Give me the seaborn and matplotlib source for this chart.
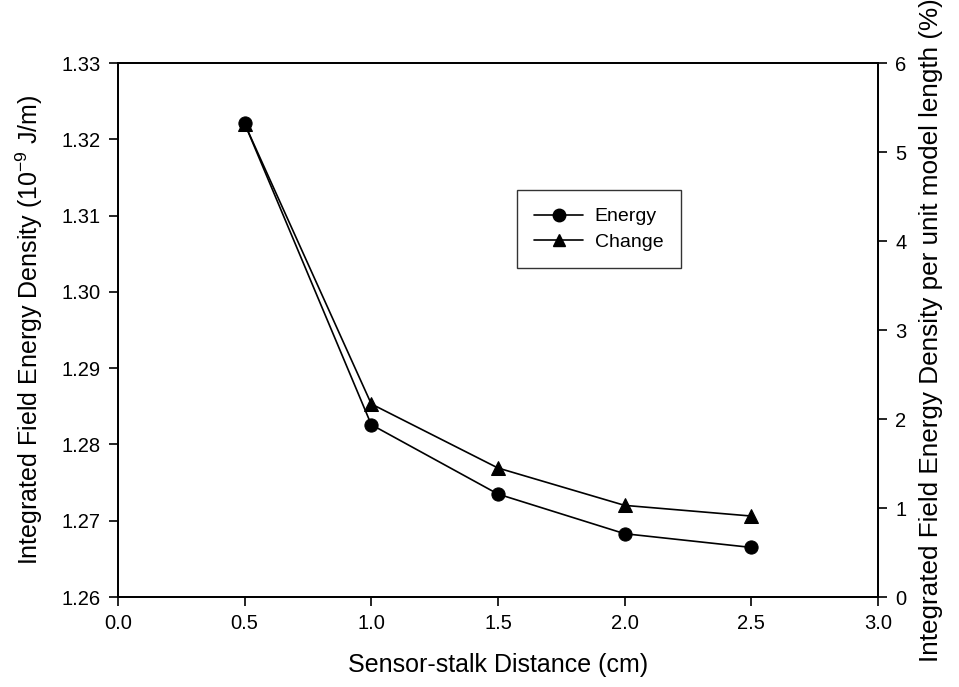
import matplotlib
matplotlib.use("Agg")
import matplotlib.pyplot as plt
import seaborn as sns
import pandas as pd
from matplotlib.lines import Line2D

distance_cm = [0.5, 1.0, 1.5, 2.0, 2.5]
energy = [1.3221, 1.2826, 1.2735, 1.2683, 1.2665]
change_pct = [5.32, 2.17, 1.45, 1.03, 0.91]

x_ticks = [0.0, 0.5, 1.0, 1.5, 2.0, 2.5, 3.0]
left_ticks = [1.26, 1.27, 1.28, 1.29, 1.30, 1.31, 1.32, 1.33]
right_ticks = [0, 1, 2, 3, 4, 5, 6]

sns.set_style("ticks")
plt.rcParams["font.family"] = ["Liberation Sans", "DejaVu Sans"]
plt.rcParams["mathtext.fontset"] = "custom"
plt.rcParams["mathtext.rm"] = "Liberation Sans"
plt.rcParams["text.color"] = "black"
plt.rcParams["axes.labelcolor"] = "black"
plt.rcParams["xtick.color"] = "black"
plt.rcParams["ytick.color"] = "black"

df = pd.DataFrame({"d": distance_cm, "energy": energy, "change": change_pct})

fig = plt.figure(figsize=(9.59, 6.87), dpi=100)
ax = fig.add_axes([0.123, 0.131, 0.7925, 0.777])
ax2 = ax.twinx()

sns.lineplot(data=df, x="d", y="energy", ax=ax, color="black", lw=1.2,
             marker="o", markersize=9.5, markeredgecolor="black")
sns.lineplot(data=df, x="d", y="change", ax=ax2, color="black", lw=1.2,
             marker="^", markersize=9.5, markeredgecolor="black")

ax.set_xlim(0, 3)
ax.set_ylim(1.26, 1.33)
ax2.set_ylim(0, 6)
ax.set_xticks(x_ticks)
ax.set_xticklabels([f"{v:.1f}" for v in x_ticks])
ax.set_yticks(left_ticks)
ax.set_yticklabels([f"{v:.2f}" for v in left_ticks])
ax2.set_yticks(right_ticks)
ax2.set_yticklabels([str(v) for v in right_ticks])

for a in (ax, ax2):
    for s in a.spines.values():
        s.set_visible(True)
        s.set_linewidth(1.3)
        s.set_color("black")
    a.tick_params(direction="out", length=6.5, width=1.2, labelsize=14.5,
                  colors="black", pad=6)

ax.set_xlabel("Sensor-stalk Distance (cm)", fontsize=18, labelpad=14, color="black")
ax.set_ylabel(r"Integrated Field Energy Density (10$^{-9}$ J/m)", fontsize=18,
              labelpad=12, color="black")
ax2.set_ylabel("Integrated Field Energy Density per unit model length (%)",
               fontsize=18.8, labelpad=9, color="black")

handles = [
    Line2D([], [], color="black", lw=1.2, marker="o", markersize=9, markeredgecolor="black"),
    Line2D([], [], color="black", lw=1.2, marker="^", markersize=9, markeredgecolor="black"),
]
leg = ax2.legend(handles, ["Energy", "Change"], loc="upper left",
                 bbox_to_anchor=(0.525, 0.762), fontsize=14, frameon=True,
                 fancybox=False, edgecolor="black", handlelength=2.5,
                 borderpad=0.9, labelspacing=0.4, handletextpad=0.6,
                 borderaxespad=0)
leg.get_frame().set_linewidth(1.0)
for t in leg.get_texts():
    t.set_color("black")

fig.savefig("out.png", dpi=100)
